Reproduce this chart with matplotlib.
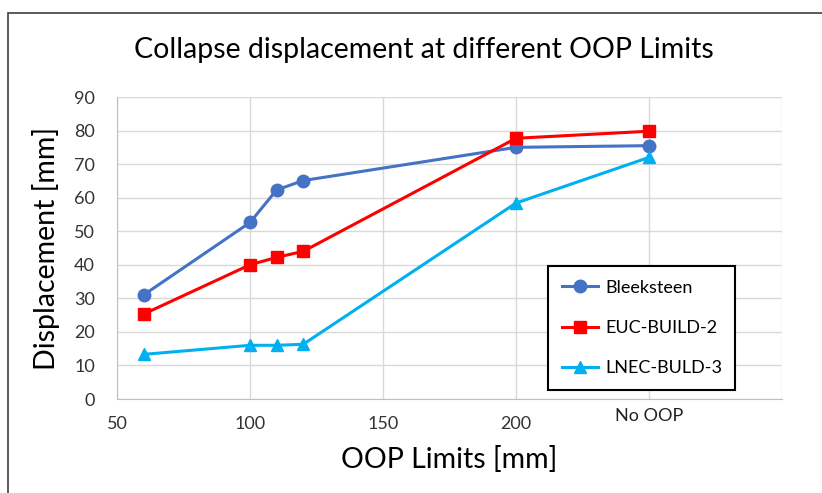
import matplotlib.pyplot as plt
from matplotlib.patches import Rectangle

# OOP limit (mm); "No OOP" plotted at 250
oop = [60, 100, 110, 120, 200, 250]
bleeksteen = [31.0, 52.6, 62.3, 65.1, 75.0, 75.5]
euc_build2 = [25.3, 40.0, 42.2, 44.0, 77.7, 79.8]
lnec_buld3 = [13.3, 16.0, 16.0, 16.3, 58.4, 72.0]

xticks = [50, 100, 150, 200]
yticks = list(range(0, 91, 10))

plt.rcParams['font.family'] = ['Lato', 'DejaVu Sans']

fig = plt.figure(figsize=(8.22, 4.93), dpi=100)
ax = fig.add_axes([117 / 822, 1 - 399 / 493, (782 - 117) / 822, (399 - 97) / 493])

# outer frame of the chart area
fig.patches.append(Rectangle((8 / 822, -0.01), 1.0, 1 - 13 / 493 + 0.01,
                             transform=fig.transFigure, fill=False,
                             edgecolor='#404040', linewidth=1.2))

ax.plot(oop, bleeksteen, '-o', color='#4472C4', lw=2.2, ms=9, label='Bleeksteen')
ax.plot(oop, euc_build2, '-s', color='#FF0000', lw=2.2, ms=9, label='EUC-BUILD-2')
ax.plot(oop, lnec_buld3, '-^', color='#00B0F0', lw=2.2, ms=9, label='LNEC-BULD-3')

ax.set_xlim(50, 300)
ax.set_ylim(0, 90)
ax.set_xticks(xticks + [250, 300])
ax.set_xticklabels([str(t) for t in xticks] + ['', ''])
ax.set_yticks(yticks)
ax.text(250, -2.8, 'No OOP', ha='center', va='top', fontsize=13, color='#222222')

ax.grid(True, color='#D9D9D9', lw=1)
ax.set_axisbelow(True)
for side in ['top', 'right']:
    ax.spines[side].set_visible(False)
for side in ['left', 'bottom']:
    ax.spines[side].set_color('#BFBFBF')
ax.tick_params(length=0, labelsize=13, labelcolor='#333333', pad=12)
ax.tick_params(axis='y', pad=16)

ax.set_xlabel('OOP Limits [mm]', fontsize=20.5, labelpad=10)
ax.set_ylabel('Displacement [mm]', fontsize=20.5, labelpad=10)
fig.text(424 / 822, 1 - 50 / 493, 'Collapse displacement at different OOP Limits',
         ha='center', va='center', fontsize=20.5)

leg = ax.legend(loc='lower right', bbox_to_anchor=(0.93, 0.03), borderaxespad=0,
                fancybox=False, edgecolor='black', framealpha=1, fontsize=13,
                handlelength=2.0, labelspacing=1.35, borderpad=0.75,
                handletextpad=0.4)
leg.get_frame().set_linewidth(1.5)

fig.savefig('out.png', dpi=100)
